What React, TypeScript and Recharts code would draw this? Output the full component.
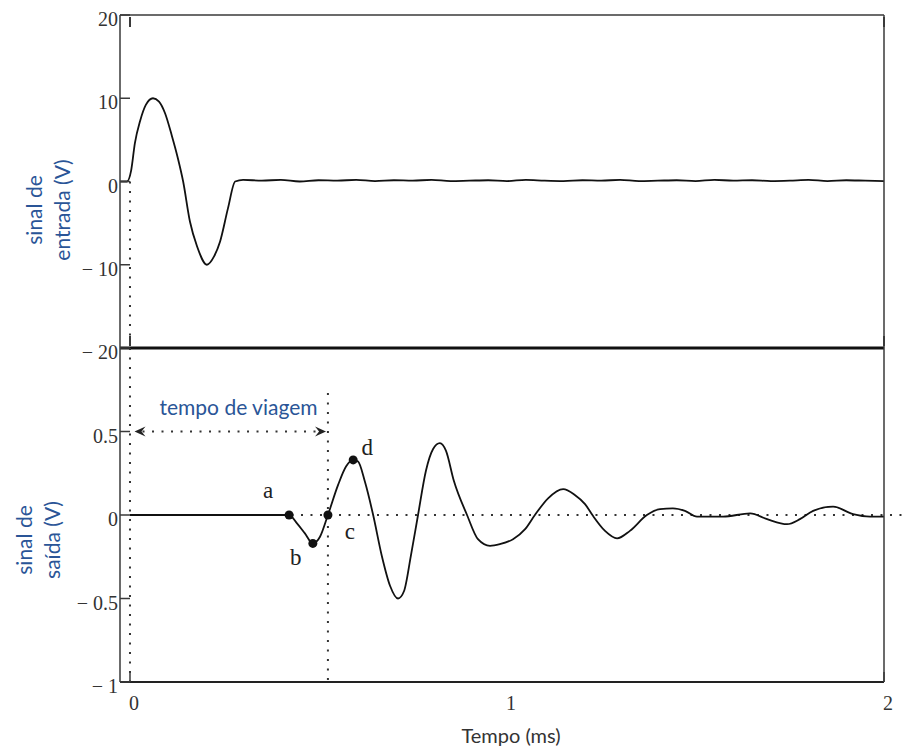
import React from 'react';
import { ComposedChart, Line, XAxis, YAxis, ReferenceLine, ReferenceDot, Label } from 'recharts';

// ---- data ----
const inputTime = [-0.0265, -0.008, 0.003, 0.013, 0.027, 0.042, 0.061, 0.077, 0.093, 0.111, 0.127, 0.141, 0.159, 0.178, 0.204, 0.223, 0.239, 0.26, 0.279,
  0.3, 0.35, 0.4, 0.45, 0.5, 0.55, 0.6, 0.65, 0.7, 0.75, 0.8, 0.85, 0.9, 0.95, 1.0, 1.05, 1.1, 1.15, 1.2, 1.25, 1.3, 1.35, 1.4, 1.45, 1.5, 1.55, 1.6, 1.65, 1.7, 1.75, 1.8, 1.85, 1.9, 1.95, 2.0];
const inputVolts = [0, 0, 1.3, 4.6, 7.3, 9.2, 10.0, 9.6, 8.2, 5.5, 2.8, 0, -4.8, -7.8, -10, -9, -7.2, -3.2, 0,
  0.2, 0.1, 0.2, 0, 0.15, 0.1, 0.2, 0.05, 0.15, 0.1, 0.2, 0.05, 0.1, 0.15, 0.05, 0.2, 0.1, 0.05, 0.15, 0.1, 0.2, 0.05, 0.1, 0.15, 0.05, 0.2, 0.1, 0.15, 0.05, 0.1, 0.2, 0.05, 0.15, 0.1, 0.05];

const outputTime = [0, 0.422, 0.443, 0.464, 0.485, 0.504, 0.525, 0.552, 0.573, 0.592, 0.605, 0.623, 0.645, 0.668, 0.69, 0.711, 0.727, 0.745, 0.764, 0.785, 0.804, 0.822, 0.838, 0.859, 0.894, 0.923, 0.955, 0.981, 1.016, 1.048, 1.074, 1.109, 1.149, 1.18, 1.207, 1.228, 1.26, 1.292, 1.326, 1.371, 1.406, 1.44, 1.472, 1.504, 1.573, 1.645, 1.69, 1.743, 1.777, 1.812, 1.865, 1.918, 1.963, 2.0];
const outputVolts = [0, 0, -0.05, -0.11, -0.17, -0.13, 0, 0.18, 0.29, 0.33, 0.32, 0.2, 0, -0.245, -0.425, -0.5, -0.455, -0.245, 0, 0.265, 0.395, 0.43, 0.385, 0.205, 0, -0.145, -0.185, -0.175, -0.145, -0.085, 0, 0.1, 0.155, 0.12, 0.065, -0.005, -0.095, -0.14, -0.095, 0, 0.035, 0.04, 0.025, -0.01, -0.01, 0.01, -0.025, -0.055, -0.025, 0.025, 0.05, 0.005, -0.01, -0.01];

const markerNames = ['a', 'b', 'c', 'd'];
const markerTime = [0.422, 0.485, 0.525, 0.592];
const markerVolts = [0, -0.17, 0, 0.33];

const topTicks = [-20, -10, 0, 10, 20];
const bottomTicks = [-1, -0.5, 0, 0.5];
const timeTicks = [0, 1, 2];
const edgeTimeTicks = [0, 2];
const travelTime = 0.525;
const travelLineTop = 0.73;
const arrowLevel = 0.5;
const arrowStart = 0.012;
const arrowEnd = 0.52;
const zeroLineEnd = 2.05;

const X_DOMAIN: [number, number] = [-0.0265, 2];

// ---- styles ----
const INK = '#222';
const AXIS = '#3a3a3a';
const TICK_TXT = '#333';
const BLUE = '#2a5597';
const SERIF = '"Liberation Serif", "Times New Roman", serif';
const SANS = 'Lato, "Open Sans", sans-serif';
const DOT = { stroke: '#333', strokeWidth: 2, strokeDasharray: '2 7.5' };
const markerLabelOffset: Record<string, [number, number]> = {
  a: [-21, -17], b: [-17, 22], c: [22, 24], d: [14, -5],
};

const fmt = (v: number) => (v < 0 ? '\u2212 ' + String(Math.abs(v)) : String(v));

const topData = inputTime.map((t, i) => ({ t, v: inputVolts[i] }));
const bottomData = outputTime.map((t, i) => ({ t, v: outputVolts[i] }));

const LeftTick = (p: any) => (
  <g>
    <line x1={p.x + 2} x2={p.x + 12} y1={p.y} y2={p.y} stroke={AXIS} strokeWidth={1.5} />
    <text x={p.x} y={p.y + 11} textAnchor="end" fontFamily={SERIF} fontSize={20} fill={TICK_TXT}>
      {fmt(p.payload.value)}
    </text>
  </g>
);
const RightTick = (p: any) => (
  <line x1={p.x - 2} x2={p.x - 12} y1={p.y} y2={p.y} stroke={AXIS} strokeWidth={1.5} />
);
const BottomTickLabeled = (p: any) => (
  <g>
    {edgeTimeTicks.includes(p.payload.value) && (
      <line x1={p.x} x2={p.x} y1={p.y - 2} y2={p.y - 12} stroke={AXIS} strokeWidth={1.5} />
    )}
    <text x={p.x + 4} y={p.y + 26} textAnchor="middle" fontFamily={SERIF} fontSize={20} fill={TICK_TXT}>
      {String(p.payload.value)}
    </text>
  </g>
);
const BottomTickPlain = (p: any) => (
  <line x1={p.x} x2={p.x} y1={p.y - 2} y2={p.y - 12} stroke={AXIS} strokeWidth={2} />
);
const TopTickPlain = (p: any) => (
  <line x1={p.x} x2={p.x} y1={p.y + 2} y2={p.y + 12} stroke={AXIS} strokeWidth={2} />
);

const twoLineLabel = (l1: string, l2: string, x1: number, x2: number, cy: number) => () => (
  <g fontFamily={SANS} fontSize={21} fill={BLUE}>
    <text x={x1} y={cy} textAnchor="middle" transform={`rotate(-90, ${x1}, ${cy})`}>{l1}</text>
    <text x={x2} y={cy} textAnchor="middle" transform={`rotate(-90, ${x2}, ${cy})`}>{l2}</text>
  </g>
);

const ArrowShape = (p: any) => {
  const { x1, y1, x2 } = p;
  const y = y1;
  return (
    <g>
      <line x1={x1 + 8} x2={x2 - 8} y1={y} y2={y} {...DOT} />
      <path d={`M${x1},${y} L${x1 + 11},${y - 5} L${x1 + 7},${y} L${x1 + 11},${y + 5} Z`} fill={INK} />
      <path d={`M${x2},${y} L${x2 - 11},${y - 5} L${x2 - 7},${y} L${x2 - 11},${y + 5} Z`} fill={INK} />
      <text x={x1 + 25} y={y - 17} fontFamily={SANS} fontSize={21} fill={BLUE}>tempo de viagem</text>
    </g>
  );
};

const markerShape = (name: string) => (p: any) => {
  const [dx, dy] = markerLabelOffset[name];
  return (
    <g>
      <circle cx={p.cx} cy={p.cy} r={4.5} fill="#111" />
      <text x={p.cx + dx} y={p.cy + dy} textAnchor="middle" fontFamily={SERIF} fontSize={23} fill="#222">{name}</text>
    </g>
  );
};

export default function App() {
  return (
    <div style={{ position: 'absolute', left: 0, top: 0, width: 902, height: 754, background: '#fff' }}>
      <div style={{ position: 'absolute', left: 0, top: 0 }}>
        <ComposedChart width={902} height={370} data={topData} margin={{ top: 14, right: 17, bottom: 21, left: 0 }}>
          <XAxis xAxisId="b" dataKey="t" type="number" domain={X_DOMAIN} ticks={edgeTimeTicks} allowDataOverflow
            height={1} tickSize={0} tickMargin={0} tickLine={false} tick={<BottomTickPlain />}
            axisLine={{ stroke: '#111', strokeWidth: 3 }} />
          <XAxis xAxisId="t" orientation="top" dataKey="t" type="number" domain={X_DOMAIN} ticks={edgeTimeTicks} allowDataOverflow
            height={1} tickSize={0} tickMargin={0} tickLine={false} tick={<TopTickPlain />}
            axisLine={{ stroke: AXIS, strokeWidth: 1.5 }} />
          <YAxis yAxisId="l" type="number" domain={[-20, 20]} ticks={topTicks} width={120} tickSize={0} tickMargin={2}
            tickLine={false} tick={<LeftTick />} axisLine={{ stroke: AXIS, strokeWidth: 1.5 }}>
            <Label content={twoLineLabel('sinal de', 'entrada (V)', 42, 70, 210)} />
          </YAxis>
          <YAxis yAxisId="r" orientation="right" type="number" domain={[-20, 20]} ticks={topTicks} width={1} tickSize={0} tickMargin={2}
            tickLine={false} tick={<RightTick />} axisLine={{ stroke: AXIS, strokeWidth: 1.5 }} />
          <ReferenceLine xAxisId="b" yAxisId="l" segment={[{ x: 0, y: 0 }, { x: 0, y: -20 }]} {...DOT} />
          <Line xAxisId="b" yAxisId="l" dataKey="v" type="monotone" stroke="#111" strokeWidth={1.8} dot={false} isAnimationActive={false} />
        </ComposedChart>
      </div>
      <div style={{ position: 'absolute', left: 0, top: 348 }}>
        <ComposedChart width={902} height={406} data={bottomData} margin={{ top: 0, right: 17, bottom: 0, left: 0 }}>
          <XAxis dataKey="t" type="number" domain={X_DOMAIN} ticks={timeTicks} allowDataOverflow height={72}
            tickSize={0} tickMargin={2} tickLine={false} tick={<BottomTickLabeled />}
            axisLine={{ stroke: '#222', strokeWidth: 2 }}>
            <Label content={() => (
              <text x={511} y={395} textAnchor="middle" fontFamily={SANS} fontSize={20} fill="#333">Tempo (ms)</text>
            )} />
          </XAxis>
          <YAxis yAxisId="l" type="number" domain={[-1, 1]} ticks={bottomTicks} width={120} tickSize={0} tickMargin={2}
            tickLine={false} tick={<LeftTick />} axisLine={{ stroke: AXIS, strokeWidth: 1.5 }}>
            <Label content={twoLineLabel('sinal de', 'saída (V)', 32, 60, 192)} />
          </YAxis>
          <YAxis yAxisId="r" orientation="right" type="number" domain={[-1, 1]} ticks={[]} width={1}
            tickLine={false} tick={false} axisLine={{ stroke: AXIS, strokeWidth: 1.5 }} />
          <ReferenceLine yAxisId="l" segment={[{ x: 0, y: 1 }, { x: 0, y: -1 }]} {...DOT} />
          <ReferenceLine yAxisId="l" segment={[{ x: travelTime, y: travelLineTop }, { x: travelTime, y: -1 }]} {...DOT} />
          <ReferenceLine yAxisId="l" segment={[{ x: 0, y: 0 }, { x: zeroLineEnd, y: 0 }]} ifOverflow="visible" {...DOT} />
          <ReferenceLine yAxisId="l" segment={[{ x: arrowStart, y: arrowLevel }, { x: arrowEnd, y: arrowLevel }]} shape={<ArrowShape />} />
          <Line yAxisId="l" dataKey="v" type="monotone" stroke="#111" strokeWidth={1.8} dot={false} isAnimationActive={false} />
          {markerNames.map((n, i) => (
            <ReferenceDot key={n} yAxisId="l" x={markerTime[i]} y={markerVolts[i]} r={4.5} shape={markerShape(n)} ifOverflow="visible" />
          ))}
        </ComposedChart>
      </div>
    </div>
  );
}
